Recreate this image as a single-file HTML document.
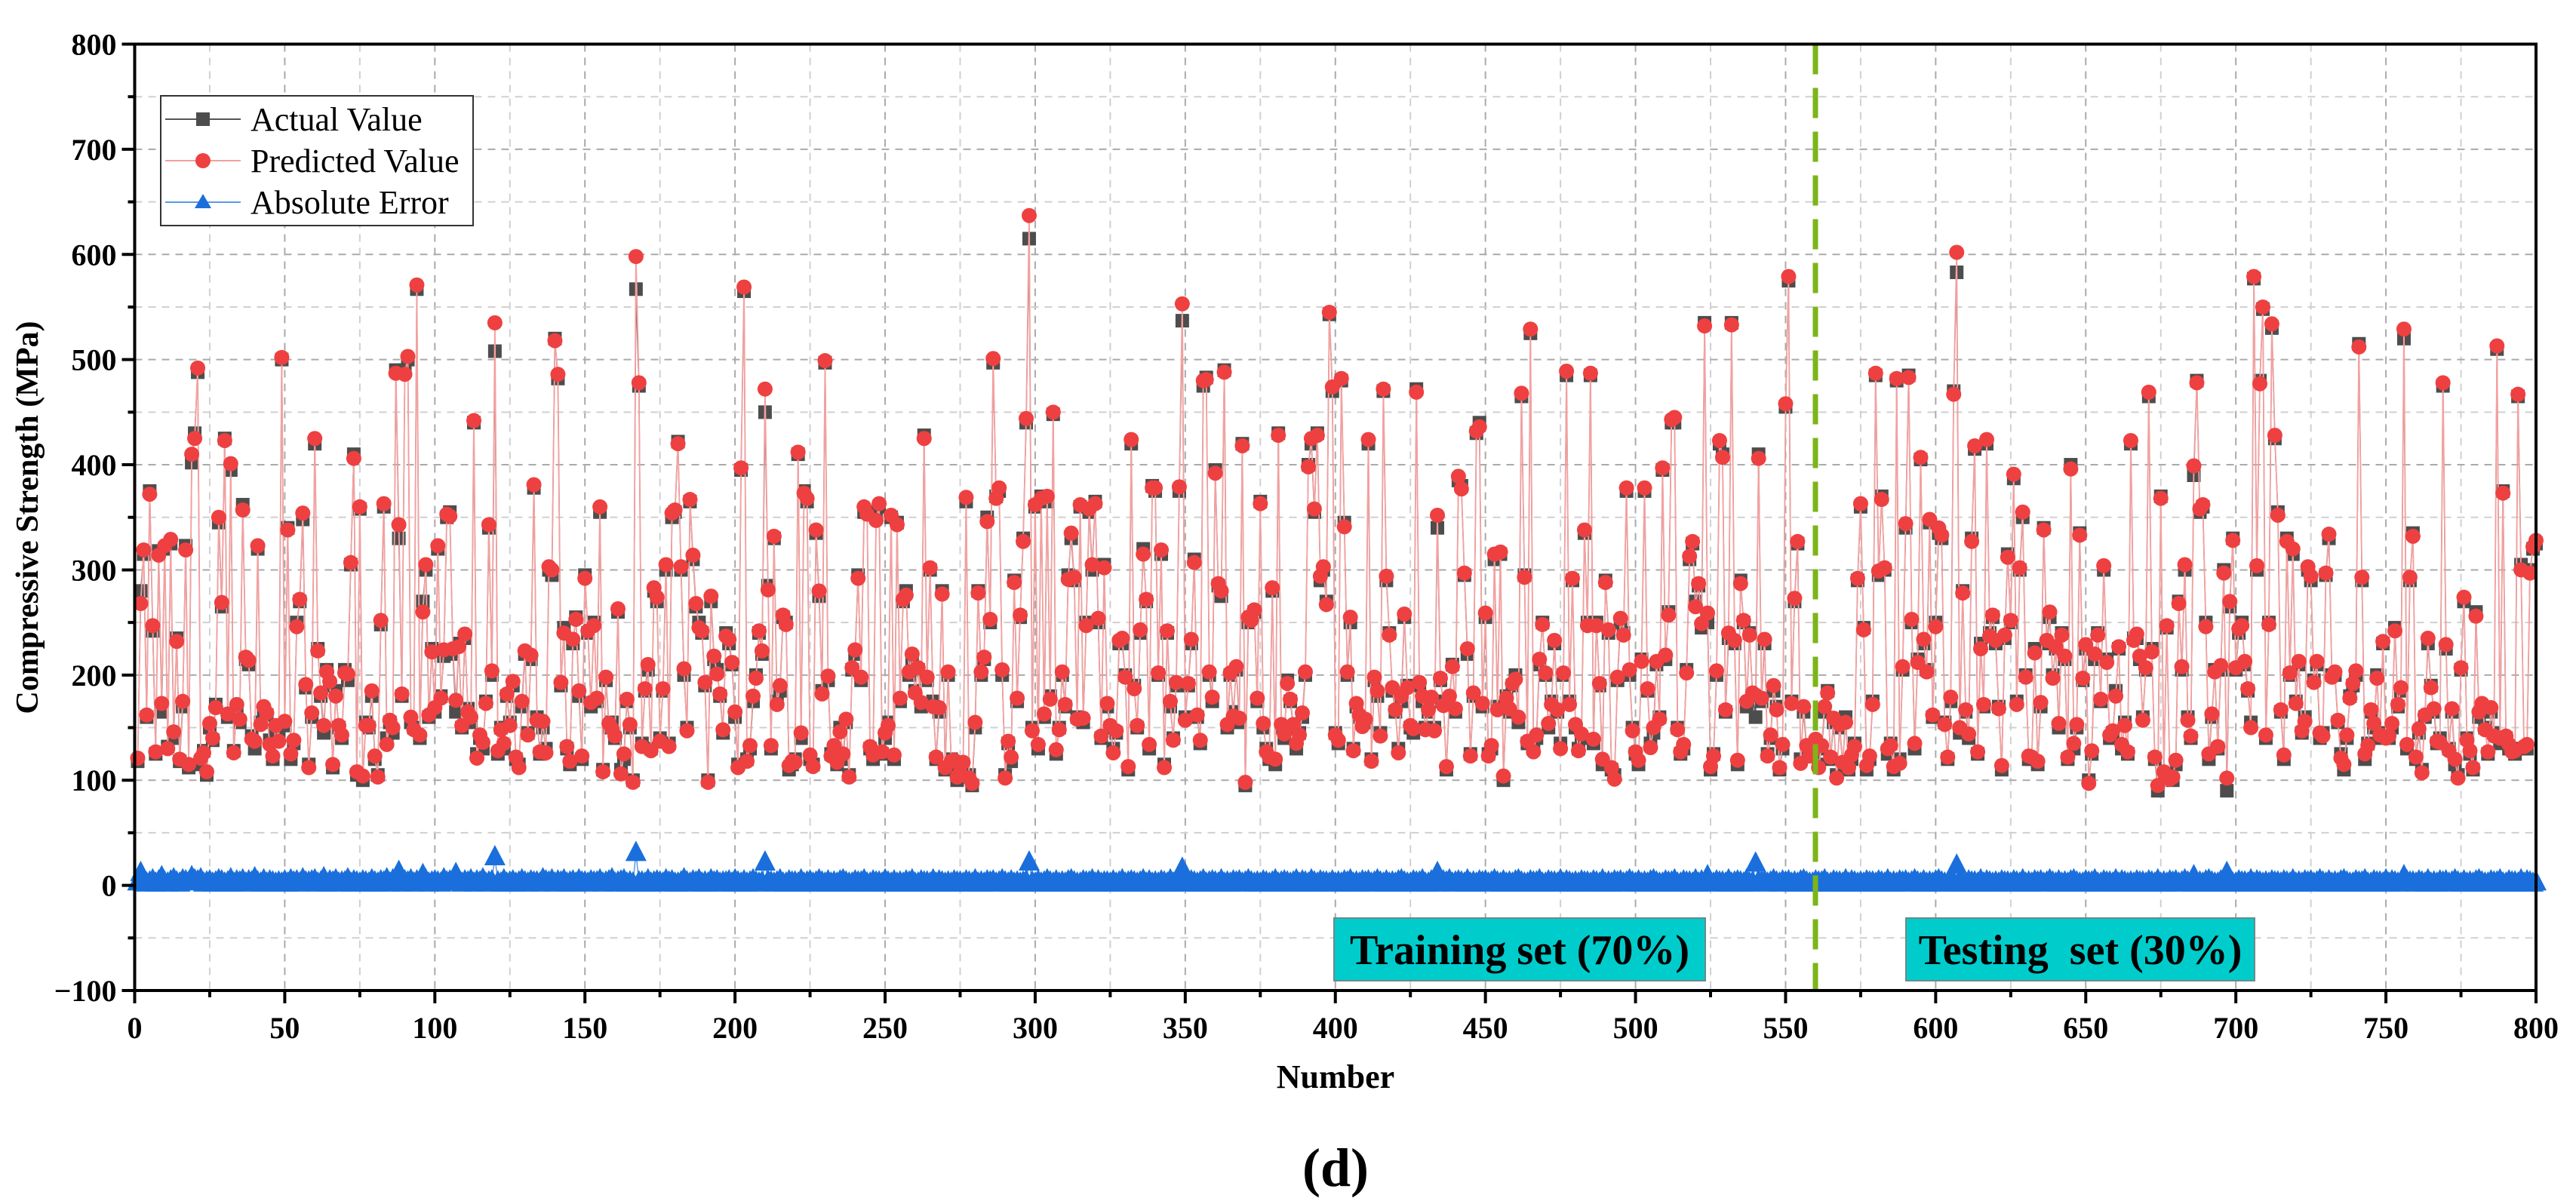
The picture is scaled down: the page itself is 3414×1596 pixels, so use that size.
<!DOCTYPE html>
<html><head><meta charset="utf-8"><style>
html,body{margin:0;padding:0;background:#fff;}
svg{display:block;font-family:"Liberation Serif",serif;}
</style></head><body>
<svg id="chart" width="3414" height="1596" viewBox="0 0 3414 1596" xmlns="http://www.w3.org/2000/svg">
<rect width="3414" height="1596" fill="#fff"/>
<g id="grid"></g>
<g id="series-actual"></g>
<g id="series-pred"></g>
<g id="series-err"></g>
<line x1="2406" y1="58.5" x2="2406" y2="1313" stroke="#7cb518" stroke-width="7" stroke-dasharray="40,18"/>
<g>
<rect x="1768" y="1217" width="492" height="83" fill="#00cccc" stroke="#6a8a8a" stroke-width="2"/>
<text x="2014" y="1278" text-anchor="middle" font-size="56" font-weight="bold">Training set (70%)</text>
</g>
<g>
<rect x="2526" y="1217" width="462" height="83" fill="#00cccc" stroke="#6a8a8a" stroke-width="2"/>
<text x="2757" y="1278" text-anchor="middle" font-size="56" font-weight="bold" xml:space="preserve">Testing  set (30%)</text>
</g>
<g id="axes"></g>
<g>
<rect x="213" y="127" width="414" height="172" fill="#fff" stroke="#333" stroke-width="2"/>
<g>
<line x1="219" y1="158" x2="319" y2="158" stroke="#555" stroke-width="2"/>
<rect x="260" y="149" width="18" height="18" fill="#4d4d4d"/>
<text x="332" y="173" font-size="44">Actual Value</text></g>
<g>
<line x1="219" y1="213" x2="319" y2="213" stroke="#f4a0a0" stroke-width="2"/>
<circle cx="269" cy="213" r="10" fill="#ee4040"/>
<text x="332" y="228" font-size="44">Predicted Value</text></g>
<g>
<line x1="219" y1="268" x2="319" y2="268" stroke="#5a9ae6" stroke-width="2"/>
<path d="M269 257 L280 276 L258 276 Z" fill="#1a6fdc"/>
<text x="332" y="283" font-size="44">Absolute Error</text></g>
</g>
<text transform="translate(50,686) rotate(-90)" text-anchor="middle" font-size="42" font-weight="bold">Compressive Strength (MPa)</text>
<text x="1770" y="1442" text-anchor="middle" font-size="44" font-weight="bold">Number</text>
<text x="1770" y="1572" text-anchor="middle" font-size="72" font-weight="bold">(d)</text>
</svg>
<script>
const actual = [
118,280,315,160,375,242,125,318,165,320,132,325,140,235,118,170,323,112,402,430,488,115,128,105,150,
138,172,345,265,425,160,395,128,168,155,362,215,210,142,130,320,155,165,162,138,120,150,140,500,152,
340,120,135,250,270,348,188,115,160,420,225,180,145,205,190,112,185,150,140,205,195,305,410,105,358,
100,155,150,180,120,105,248,360,140,155,145,490,330,180,490,500,155,150,567,140,270,300,160,225,165,
320,180,218,350,355,220,165,230,150,235,168,155,440,125,140,130,175,340,200,508,125,150,130,180,155,
190,120,115,170,220,145,215,378,160,125,150,130,300,295,520,482,190,245,130,115,230,255,180,120,295,
240,170,250,175,355,110,195,150,155,140,260,110,120,175,150,100,567,475,135,185,205,130,280,270,140,
185,300,135,350,355,422,300,200,150,365,310,265,250,240,190,100,270,215,205,180,145,240,230,210,160,
115,395,565,120,130,175,200,240,220,450,285,130,330,175,185,255,250,110,115,120,410,140,375,365,120,
115,335,275,185,497,195,125,130,115,150,120,155,105,205,220,295,195,355,355,130,120,350,360,125,140,
155,350,120,345,175,270,280,200,215,185,205,170,428,195,300,175,120,165,280,110,200,120,115,100,110,
115,365,105,95,150,280,200,215,350,250,497,370,375,200,105,135,118,290,175,255,330,440,615,150,360,
130,370,160,365,180,448,125,150,200,170,295,330,290,160,360,155,250,355,300,365,250,140,305,170,150,
130,145,230,230,200,110,420,190,150,240,320,270,130,380,375,200,315,115,240,170,140,190,375,537,160,
190,230,310,160,135,475,483,200,175,395,285,275,490,150,200,165,205,155,420,95,250,255,260,175,365,
150,130,120,280,115,430,150,140,195,175,150,130,145,160,200,400,420,355,430,290,300,270,543,470,145,
135,480,345,200,250,130,170,160,155,155,420,120,195,180,145,470,290,240,185,165,130,175,255,190,150,
145,472,190,175,150,165,175,150,340,195,175,110,175,210,165,385,380,295,220,125,180,430,440,170,255,
125,130,310,170,315,100,180,165,190,200,155,465,295,135,525,130,140,210,250,200,150,175,230,165,135,
200,485,175,290,150,130,140,335,250,485,135,250,190,115,290,240,110,105,195,250,240,375,200,150,125,
115,215,375,185,135,145,210,160,395,215,260,440,440,150,125,130,205,310,325,270,285,245,535,250,110,
125,200,420,410,165,235,535,230,115,290,250,170,240,180,160,410,175,230,125,140,185,170,110,130,455,
575,175,270,325,120,165,130,125,125,135,115,130,165,185,120,155,105,150,115,160,110,120,135,290,360,
245,110,120,175,485,295,370,300,125,135,110,480,120,205,340,485,250,130,215,405,230,205,345,160,250,
335,330,155,120,175,470,583,145,280,165,140,330,415,125,230,170,420,240,255,230,170,110,235,315,250,
387,175,300,350,200,120,120,225,115,170,340,230,255,200,225,150,240,215,120,400,130,150,335,195,225,
100,125,215,240,175,300,215,140,145,185,225,130,155,125,420,235,235,215,160,205,465,225,120,90,370,
105,245,105,100,115,270,205,300,160,140,390,480,355,360,250,120,160,205,130,205,300,90,265,330,205,
240,250,210,185,155,577,300,480,548,140,250,530,425,355,165,120,330,200,315,175,210,145,160,300,290,
195,210,140,145,295,330,200,200,155,125,110,140,180,190,200,515,290,120,135,165,150,200,140,230,145,
140,150,245,170,185,520,130,290,335,120,145,110,160,230,190,165,135,140,475,225,130,165,115,105,205,
270,140,125,110,260,160,170,150,125,165,145,510,135,375,140,130,130,125,465,305,130,130,300,320,325
];
const residual = [
3,-12,4,2,-3,5,2,-4,8,3,-2,4,6,-3,2,5,-4,3,8,-5,4,6,-2,3,4,
2,-3,5,4,-2,3,6,-2,4,3,-5,2,4,-3,7,3,-2,5,2,-4,3,2,-3,2,4,
-2,5,3,-4,2,6,3,-3,4,5,-2,3,7,-2,4,3,-5,2,3,-3,6,2,-4,3,2,
4,-3,2,5,3,-2,4,3,-6,2,5,-3,13,2,-4,3,5,-2,4,3,-10,5,2,-3,4,
3,-2,6,3,-4,5,11,-3,2,4,-3,5,2,-4,3,6,-2,3,4,27,3,-2,5,2,-3,
4,2,-3,5,3,-2,4,3,-3,2,6,-4,3,5,-2,4,3,-5,2,3,4,-2,5,3,-3,
2,4,-3,3,5,-2,3,4,-6,2,3,-4,5,2,3,-2,31,3,-3,2,5,-2,3,4,-3,
2,5,-3,4,2,-2,3,6,-3,2,4,3,-5,2,3,-2,5,3,-4,2,3,-3,4,2,5,
-3,2,4,-2,3,5,-3,2,3,22,-4,3,2,-3,5,2,-2,4,3,-3,2,5,-2,3,4,
-2,3,5,-3,2,4,-2,3,2,-4,5,3,-2,2,4,-3,3,5,-2,2,4,-3,3,2,5,
-3,2,4,-2,3,2,-4,3,5,-2,2,4,-3,3,2,-5,2,4,-3,2,3,-2,4,3,-3,
2,4,-3,2,5,-2,3,2,-4,3,4,-2,3,5,-3,2,4,-2,3,2,-3,4,22,-3,2,
4,-2,3,5,-3,2,4,-2,3,2,-4,5,3,-2,2,4,-3,3,5,-2,4,2,-3,3,2,
-4,2,3,5,-2,3,4,-3,2,3,-5,2,4,-2,3,2,4,-3,2,5,-2,3,4,16,-3,
2,4,-3,2,3,5,-2,3,4,-3,2,5,-2,3,2,-4,3,4,-2,3,5,-3,2,3,-2,
4,-3,2,3,5,-2,3,4,-3,2,3,5,-2,4,3,-2,5,3,-2,4,3,-3,2,4,-2,
3,2,-4,3,5,-2,3,2,-4,3,4,-2,3,5,-3,2,4,-2,3,2,-4,5,3,-2,2,
4,-3,3,5,-2,2,4,-3,12,2,-4,3,5,-2,3,4,-3,2,5,-2,3,2,-4,3,4,
-2,3,5,-3,2,4,-2,3,2,-4,5,3,-2,2,4,-3,3,5,-2,2,4,-3,3,2,-5,
2,4,-3,2,3,-2,4,3,-3,2,4,-3,2,5,-2,3,2,-4,3,4,-2,3,5,-3,2,
4,-2,3,2,-4,5,3,-2,2,4,-3,3,5,-2,2,4,-3,3,2,-5,2,4,-3,9,3,
-2,4,3,-3,2,5,-2,3,4,-3,2,5,-2,3,21,-4,3,4,-2,3,5,-3,2,4,3,
4,-2,3,2,-4,5,3,-2,2,4,-3,3,5,-2,2,4,-3,3,2,-5,2,4,-3,2,3,
-2,4,3,-3,2,4,-3,2,5,-2,3,2,-4,3,4,-2,3,5,-3,2,4,-2,3,2,-4,
5,3,-2,2,4,-3,19,5,-2,2,4,-3,3,2,-5,2,4,-3,2,3,-2,4,3,-3,2,
4,-3,2,5,-2,3,2,-4,3,4,-2,3,5,-3,2,4,-2,3,2,-4,5,3,-2,2,4,
-3,3,5,-2,2,4,-3,3,2,-5,2,4,-3,2,3,-2,4,3,-3,2,4,-3,2,5,-2,
3,2,-4,3,4,-2,3,5,-3,2,9,-2,3,2,-4,5,3,-2,2,4,-3,12,5,-2,2,
4,-3,3,2,-5,2,4,-3,2,3,-2,4,3,-3,2,4,-3,2,5,-2,3,2,-4,3,4,
-2,3,5,-3,2,4,-2,3,2,-4,5,3,-2,2,4,-3,3,5,-2,2,4,-3,3,2,-5,
2,4,-3,2,3,9,4,3,-3,2,4,-3,2,5,-2,3,2,-4,3,4,-2,3,5,-3,2,
4,-2,3,2,-4,5,3,-2,2,4,-3,3,5,-2,2,4,-3,3,2,-5,2,4,-3,2,3
];
const xTicks = [0,50,100,150,200,250,300,350,400,450,500,550,600,650,700,750,800];
const yTicks = [-100,0,100,200,300,400,500,600,700,800];

const NS = "http://www.w3.org/2000/svg";
const X0 = 178.5, X1 = 3361, Y800 = 58.5, YM100 = 1313;
function xs(v){ return X0 + (v/800)*(X1-X0); }
function ys(v){ return YM100 - ((v+100)/900)*(YM100-Y800); }
function mk(tag, attrs, parent){
  const e = document.createElementNS(NS, tag);
  for (const k in attrs) e.setAttribute(k, attrs[k]);
  parent.appendChild(e); return e;
}
const grid = document.getElementById('grid');
for (let v = 25; v < 800; v += 25) {
  const gl = mk('line', {x1:xs(v), y1:Y800, x2:xs(v), y2:YM100, stroke: v%50===0?'#aaa':'#d0d0d0', 'stroke-width':2, 'stroke-dasharray':'10,8'}, grid);
  
  
}
for (let v = -50; v < 800; v += 50) {
  const gl = mk('line', {x1:X0, y1:ys(v), x2:X1, y2:ys(v), stroke: v%100===0?'#aaa':'#d0d0d0', 'stroke-width':2, 'stroke-dasharray':'10,8'}, grid);
  
  
}
const gA = document.getElementById('series-actual');
const gP = document.getElementById('series-pred');
const gE = document.getElementById('series-err');
let dA='', dP='', dE='';
const predicted = actual.map((a,i)=>a+residual[i]);
const absErr = residual.map(r=>Math.abs(r));
actual.forEach((a,i)=>{ dA += (i?'L':'M')+xs(i+1).toFixed(1)+' '+ys(a).toFixed(1); });
predicted.forEach((p,i)=>{ dP += (i?'L':'M')+xs(i+1).toFixed(1)+' '+ys(p).toFixed(1); });
absErr.forEach((e,i)=>{ dE += (i?'L':'M')+xs(i+1).toFixed(1)+' '+ys(e).toFixed(1); });
const lA = mk('path', {d:dA, fill:'none', stroke:'#555', 'stroke-width':1.5}, gA);


actual.forEach((a,i)=>{
  const r = mk('rect', {x:xs(i+1)-9, y:ys(a)-9, width:18, height:18, fill:'#4d4d4d'}, gA);
  
  
});
const lP = mk('path', {d:dP, fill:'none', stroke:'#f4a0a0', 'stroke-width':1.8}, gP);


predicted.forEach((p,i)=>{
  const c = mk('circle', {cx:xs(i+1), cy:ys(p), r:10, fill:'#ee4040'}, gP);
  
  
});
const lE = mk('path', {d:dE, fill:'none', stroke:'#5a9ae6', 'stroke-width':1.5}, gE);


absErr.forEach((e,i)=>{
  const cx = xs(i+1), cy = ys(e);
  const t = mk('path', {d:`M${cx} ${cy-16} L${cx+14} ${cy+11} L${cx-14} ${cy+11} Z`, fill:'#1a6fdc'}, gE);
  
  
});
const ax = document.getElementById('axes');
const frame = mk('rect', {x:X0, y:Y800, width:X1-X0, height:YM100-Y800, fill:'none', stroke:'#000', 'stroke-width':4}, ax);


for (let v = 0; v <= 800; v += 25) {
  const major = v%50===0;
  const t = mk('line', {x1:xs(v), y1:YM100, x2:xs(v), y2:YM100+(major?17:9), stroke:'#000', 'stroke-width':4}, ax);
  
  
}
xTicks.forEach(v=>{
  const t = mk('text', {x:xs(v), y:1376, 'text-anchor':'middle', 'font-size':40, 'font-weight':'bold'}, ax);
  t.textContent = String(v);
  
  
});
for (let v = -100; v <= 800; v += 50) {
  const major = v%100===0;
  const t = mk('line', {x1:X0-(major?17:9), y1:ys(v), x2:X0, y2:ys(v), stroke:'#000', 'stroke-width':4}, ax);
  
  
}
yTicks.forEach(v=>{
  const t = mk('text', {x:X0-24, y:ys(v)+14, 'text-anchor':'end', 'font-size':40, 'font-weight':'bold'}, ax);
  t.textContent = v<0 ? '\u2212'+Math.abs(v) : String(v);
  
  
});
</script>
</body></html>
